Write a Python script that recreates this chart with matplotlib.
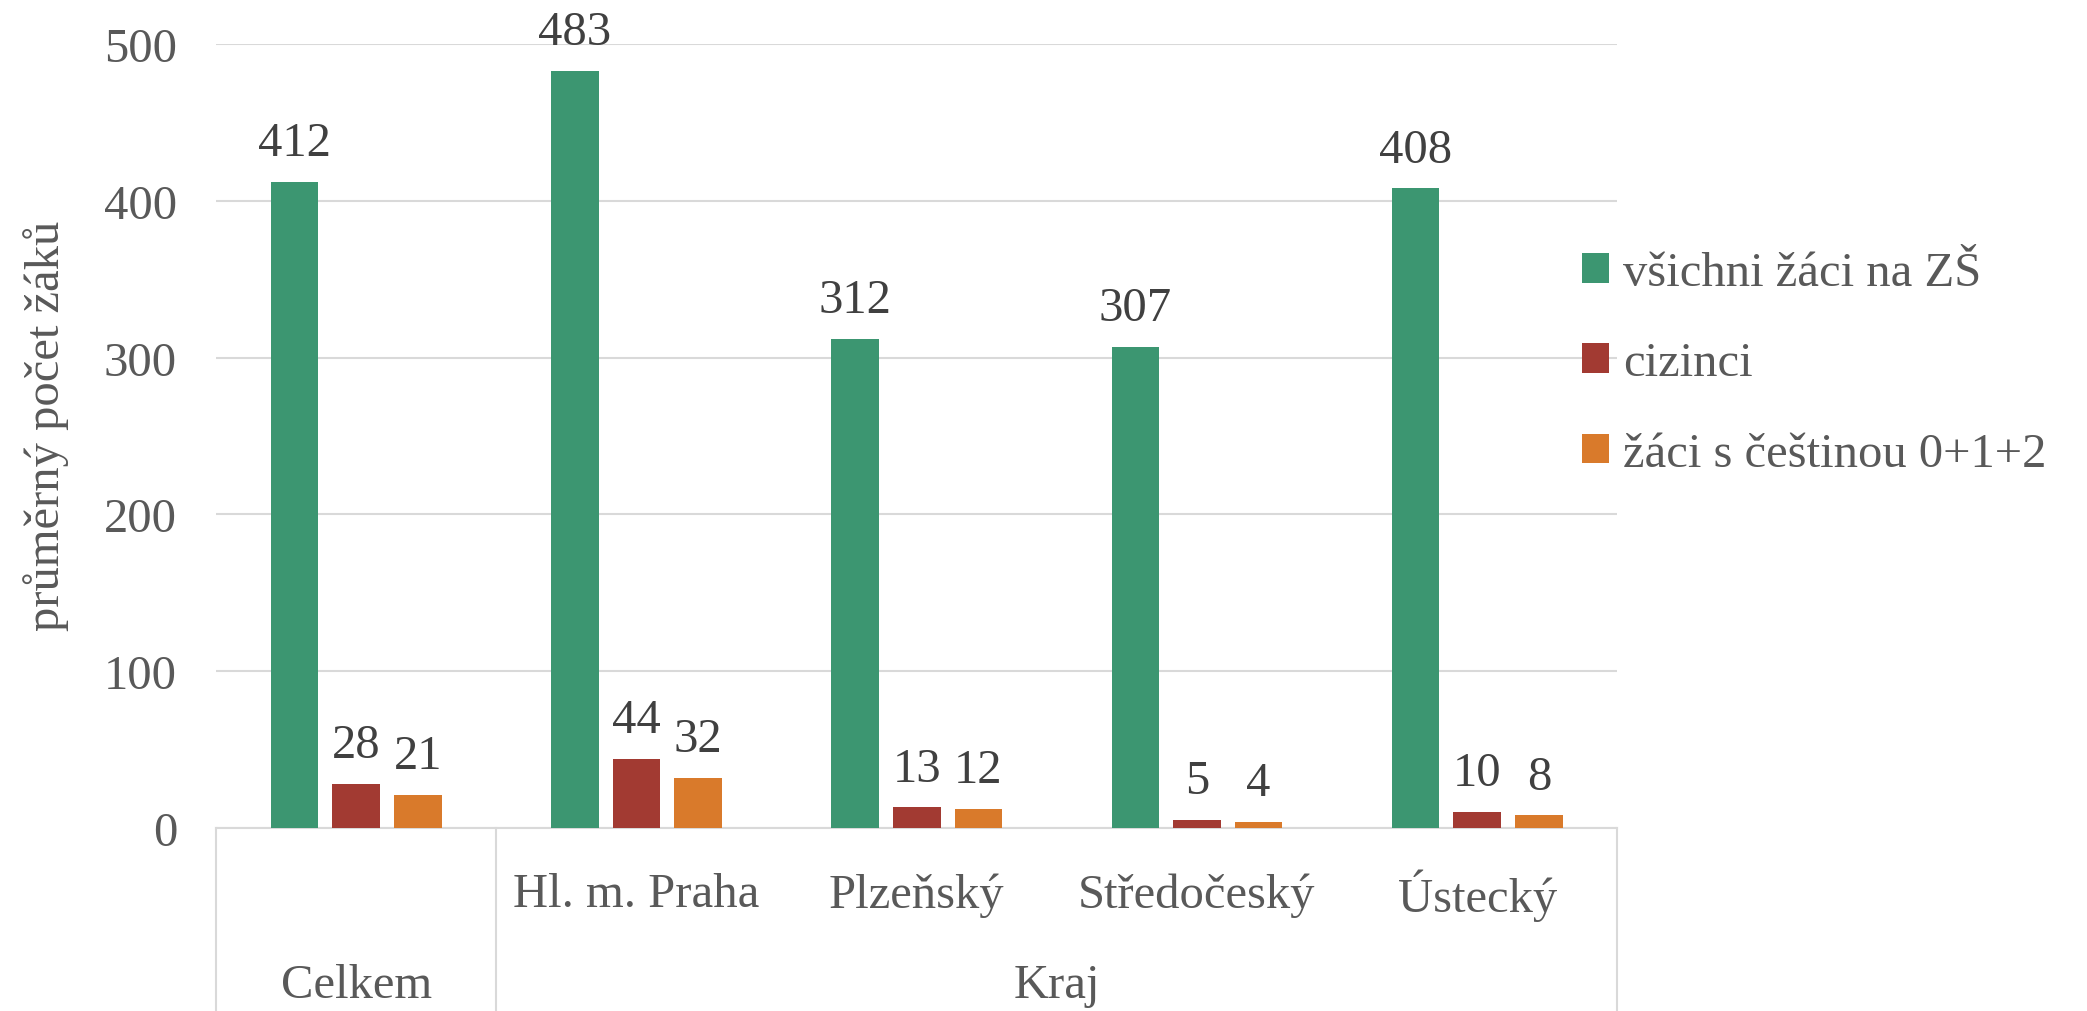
import matplotlib.pyplot as plt
import matplotlib.transforms as mtransforms
import numpy as np

plt.rcParams['font.family'] = ['Liberation Serif', 'DejaVu Serif']

categories = ["Celkem", "Hl. m. Praha", "Plzeňský", "Středočeský", "Ústecký"]
groups = ["Celkem", "Kraj"]
series_names = ["všichni žáci na ZŠ", "cizinci", "žáci s češtinou 0+1+2"]
vsichni = [412, 483, 312, 307, 408]
cizinci = [28, 44, 13, 5, 10]
cestina = [21, 32, 12, 4, 8]
yticks = [0, 100, 200, 300, 400, 500]

colors = ["#3C9671", "#A23A32", "#D97A2B"]
text_color = "#595959"
grid_color = "#D9D9D9"
fs = 35

fig = plt.figure(figsize=(20.87, 10.12), dpi=100)
ax = fig.add_axes([0.1035, 0.181, 0.6715, 0.7745])

x = np.arange(len(categories))
width = 0.17
step = 0.22
for i, (vals, name) in enumerate(zip([vsichni, cizinci, cestina], series_names)):
    pos = x + (i - 1) * step
    bars = ax.bar(pos, vals, width, color=colors[i], label=name, zorder=3)
    for b, v in zip(bars, vals):
        ax.annotate(str(v), (b.get_x() + b.get_width() / 2, v), xytext=(0, 12),
                    textcoords="offset points", ha="center", va="bottom",
                    fontsize=fs, color="#404040")

ax.set_xlim(-0.5, len(categories) - 0.5)
ax.set_ylim(0, 500)
ax.set_yticks(yticks)
ax.set_yticklabels([str(t) for t in yticks], fontsize=fs, color=text_color)
ax.tick_params(axis="y", length=0, pad=28)
ax.tick_params(axis="x", length=0, bottom=False, labelbottom=False)
ax.grid(axis="y", color=grid_color, linewidth=1.5, zorder=0)
for s in ["top", "right", "left"]:
    ax.spines[s].set_visible(False)
ax.spines["bottom"].set_color(grid_color)
ax.spines["bottom"].set_linewidth(1.5)
fig.text(0.022, 0.579, "průměrný počet žáků", rotation=90, ha="center", va="center",
         fontsize=fs, color=text_color)

# two-level category axis
trans = mtransforms.blended_transform_factory(ax.transData, ax.transAxes)
for xv in [-0.5, 0.5, len(categories) - 0.5]:
    ax.plot([xv, xv], [0, -0.24], transform=trans, color=grid_color, lw=1.5, clip_on=False)
for i, c in enumerate(categories):
    if i == 0:
        continue
    ax.text(i, -0.085, c, transform=trans, ha="center", va="center", fontsize=fs, color=text_color)
ax.text(0, -0.2, groups[0], transform=trans, ha="center", va="center", fontsize=fs, color=text_color)
ax.text((0.5 + len(categories) - 0.5) / 2, -0.2, groups[1], transform=trans,
        ha="center", va="center", fontsize=fs, color=text_color)

leg = ax.legend(loc="center left", bbox_to_anchor=(0.737, 0.64), bbox_transform=fig.transFigure,
                frameon=False, fontsize=fs, handlelength=0.55, handleheight=0.55,
                handletextpad=0.3, labelspacing=0.95)
for t in leg.get_texts():
    t.set_color(text_color)

fig.savefig("out.png", dpi=100)
